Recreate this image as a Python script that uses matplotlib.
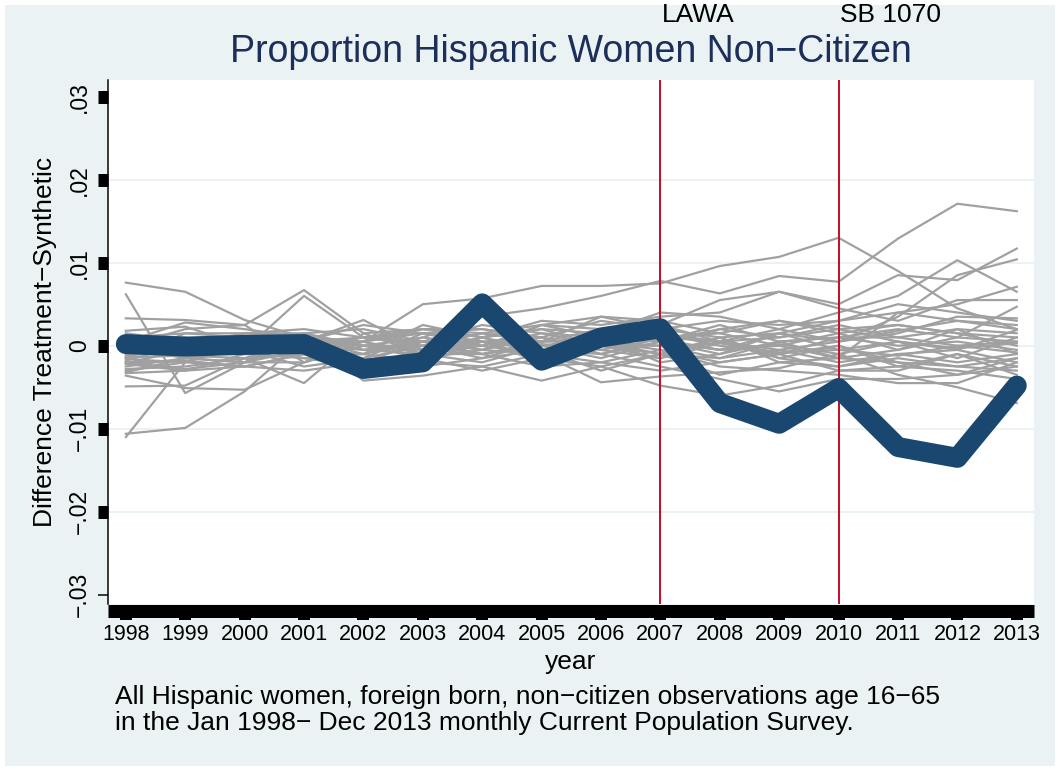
import matplotlib
matplotlib.use("Agg")
import matplotlib.pyplot as plt
import matplotlib.transforms as mtransforms
from matplotlib.patches import Rectangle

plt.rcParams['font.family'] = ['Liberation Sans', 'DejaVu Sans']

# ---------------- data ----------------
years = list(range(1998, 2014))
year_labels = [str(y) for y in years]
ytick_values = [0.03, 0.02, 0.01, 0.0, -0.01, -0.02, -0.03]
ytick_labels = [".03", ".02", ".01", "0", "\u2212.01", "\u2212.02", "\u2212.03"]
grid_values = [0.02, 0.01, 0.0, -0.01, -0.02]
events = [2007, 2010]
event_labels = ["LAWA", "SB 1070"]

# treated unit (Arizona) gap: treatment - synthetic
treated = [0.0002, -0.0001, 0.0001, 0.0002, -0.0028, -0.0020, 0.0051, -0.0018,
           0.0010, 0.0021, -0.0069, -0.0094, -0.0051, -0.0122, -0.0135, -0.0048]

# placebo gaps (in thousandths)
placebo_01 = [7.6, 6.5, 3.1, 1.0, 0.5, 2.0, 1.5, 2.5, 1.0, 0.5, -1.0, 0.5, 1.0, 2.0, 1.0, 0.5]
placebo_02 = [6.2, -5.7, -2.0, 1.5, -0.5, 0.5, -1.0, 0.2, -0.5, -1.5, 0.3, -0.8, -0.5, -1.2, 0.0, -0.8]
placebo_03 = [-11.0, -2.0, 0.5, -0.3, 1.0, 0.0, -1.5, 0.5, 1.0, 2.5, 0.5, 2.0, 0.5, 1.8, 3.0, 2.0]
placebo_04 = [-10.6, -9.9, -5.5, 0.8, -1.0, -2.0, 0.5, -0.5, 0.0, -1.0, 1.0, -1.5, -2.5, -1.0, -2.0, -1.0]
placebo_05 = [3.3, 3.1, 2.5, 6.7, 1.5, -1.0, 0.5, 1.0, -0.5, 0.8, -0.5, 0.2, -1.0, 0.5, -0.3, 0.3]
placebo_06 = [-3.2, -1.5, -0.5, 6.0, 1.0, 1.5, 0.0, 2.5, 3.5, 3.0, 1.5, 3.0, 2.0, 2.5, 1.5, 1.0]
placebo_07 = [-3.6, -5.1, -5.3, -2.0, 0.5, -1.5, -0.5, -1.0, 0.5, -0.5, -2.0, -1.0, 0.0, -2.5, -1.0, -2.5]
placebo_08 = [-4.9, -4.8, -1.5, -4.5, 1.5, 2.0, 1.0, -0.5, 0.5, 1.5, 0.0, -1.0, 1.0, 0.0, 0.5, -0.5]
placebo_09 = [-1.5, 1.5, 1.0, 0.0, -2.0, 0.5, 2.5, 1.5, 1.0, 0.5, 2.0, 1.0, 2.5, 1.0, 2.0, 1.5]
placebo_10 = [-2.0, -1.8, -2.5, -1.0, 0.5, 5.0, 5.7, 7.2, 7.2, 7.5, 9.6, 10.7, 13.0, 9.0, 4.5, 2.0]
placebo_11 = [-1.8, 0.2, 1.5, 1.0, 0.0, 1.0, 3.5, 4.5, 6.0, 7.8, 6.3, 8.4, 7.7, 12.9, 17.1, 16.2]
placebo_12 = [-2.1, -0.5, 1.0, 0.5, 3.1, -0.5, 0.5, -2.0, 1.5, 2.5, 5.5, 6.5, 5.0, 8.5, 7.9, 11.7]
placebo_13 = [0.5, 0.0, -1.0, 1.5, -4.2, -3.6, -2.5, -4.2, -2.5, -4.8, -6.0, -4.8, -3.0, -2.5, -3.0, -4.0]
placebo_14 = [-1.6, -2.0, 0.0, -1.5, -1.0, 1.0, 0.0, -1.0, -4.4, -3.7, -3.2, -2.7, -1.0, -3.5, -5.0, -6.9]
placebo_15 = [0.0, 2.0, 2.5, -2.0, 0.0, -1.5, 1.0, 2.0, 1.5, 4.0, 3.5, 2.0, 4.0, 6.0, 10.3, 6.5]
placebo_16 = [0.5, 2.8, 2.0, 1.0, -0.5, 0.0, -1.0, 0.0, -1.5, 0.5, 2.5, 0.5, -1.5, 4.0, 5.0, 7.1]
placebo_17 = [-1.0, -1.0, -0.5, -2.5, -1.5, 0.0, 1.5, 0.5, 2.0, 0.5, -0.5, 1.5, 0.5, 3.5, 8.5, 10.4]
placebo_18 = [-2.5, -1.5, -2.0, -0.5, 0.5, -1.0, 0.0, 1.5, 0.0, -1.5, 1.0, -2.0, -1.5, -0.5, 1.0, 4.7]
placebo_19 = [1.5, 0.5, 0.0, -0.5, -1.5, -2.0, -2.5, -1.0, 0.5, 0.0, -1.5, -0.5, 0.5, 1.5, 3.5, 3.3]
placebo_20 = [-0.8, 0.5, -1.0, 0.5, 1.0, 0.5, -0.5, 2.5, 2.0, 1.0, 0.5, -0.5, -2.0, -1.0, -0.5, 1.9]
placebo_21 = [0.2, -1.0, 0.5, 0.0, -0.5, -1.0, -2.0, 0.0, 1.0, -2.0, -1.0, 1.5, -0.5, 0.5, -1.5, 1.0]
placebo_22 = [-2.8, -2.5, -1.5, 0.5, 2.5, 1.5, 0.5, -0.5, -1.0, 1.0, 1.5, 0.0, 1.5, 2.5, 1.5, 0.0]
placebo_23 = [-1.2, -0.5, 1.5, 1.5, 0.0, -0.5, 1.0, 3.0, 2.5, 3.5, 4.0, 6.5, 4.5, 3.0, 5.5, 5.5]
placebo_24 = [-2.2, -3.0, -1.0, -1.5, -2.5, -1.0, -1.0, -2.5, -2.0, -0.5, -2.5, -3.0, -3.5, -4.5, -4.5, -2.0]
placebo_25 = [1.0, 1.5, 1.5, 2.0, 1.0, 2.0, 2.0, 1.0, 3.0, 2.0, 3.0, 2.5, 3.0, 4.0, 3.0, 2.5]
placebo_26 = [-3.0, -2.0, -2.5, -3.0, -2.0, -1.5, -3.0, -1.5, -2.5, -1.0, -3.5, -2.0, -2.5, -1.5, -2.5, -3.0]
placebo_27 = [-0.5, -0.8, 0.8, -1.0, -1.0, 0.5, -0.5, 1.0, -1.0, -2.5, -4.0, -5.5, -4.0, -4.0, -3.5, -1.5]
placebo_28 = [0.8, 1.0, -0.5, 0.5, 0.5, 1.5, 0.5, -1.5, 0.0, 1.5, 0.5, 1.0, 2.0, 0.5, -0.5, -2.0]
placebo_29 = [-1.4, -1.2, -1.5, -1.0, -3.0, -2.5, -1.5, -0.5, -3.0, -1.0, 0.5, -1.5, 0.0, -2.0, -2.5, -1.5]
placebo_30 = [-2.0, -2.8, -2.0, -2.0, 0.0, 0.0, 1.5, 0.5, 0.5, -1.0, -1.5, 0.5, 1.0, 1.0, 0.0, 0.5]
placebo_31 = [0.3, 0.5, 1.0, -0.5, -1.0, 2.5, 1.0, 2.0, 0.0, 0.0, 2.0, 3.0, 1.5, -0.5, 2.0, -1.0]
placebo_32 = [-0.2, -1.5, -2.0, 0.5, 0.0, -0.5, 1.0, -1.0, -2.0, -3.0, -2.0, -1.0, -3.0, -3.0, -1.0, -3.5]
placebo_33 = [-3.3, -3.0, -2.5, -1.0, -1.5, 1.5, 2.0, 1.0, -1.0, 0.5, -0.5, 0.0, -1.5, -2.0, -3.5, -2.5]
placebo_34 = [1.8, 2.3, 0.0, 1.5, 2.0, 0.5, -1.0, 0.5, 3.5, 2.0, 1.0, 1.5, 3.0, 5.0, 4.0, 3.0]

placebos = [placebo_01, placebo_02, placebo_03, placebo_04, placebo_05, placebo_06,
            placebo_07, placebo_08, placebo_09, placebo_10, placebo_11, placebo_12,
            placebo_13, placebo_14, placebo_15, placebo_16, placebo_17, placebo_18,
            placebo_19, placebo_20, placebo_21, placebo_22, placebo_23, placebo_24,
            placebo_25, placebo_26, placebo_27, placebo_28, placebo_29, placebo_30,
            placebo_31, placebo_32, placebo_33, placebo_34]

title = "Proportion Hispanic Women Non\u2212Citizen"
ylabel = "Difference Treatment\u2212Synthetic"
xlabel = "year"
note = ("All Hispanic women, foreign born, non\u2212citizen observations age 16\u221265\n"
        "in the Jan 1998\u2212 Dec 2013 monthly Current Population Survey.")

# ---------------- styling ----------------
W, H = 1060, 771
BG = "#eaf2f3"
NAVY = "#1a476f"
GRAY = "#a0a0a0"
RED = "#c8102e"
TITLE_C = "#1c2e5a"
px = 72.0 / 100.0  # points per pixel at dpi 100

fig = plt.figure(figsize=(W / 100, H / 100), dpi=100)
fig.patch.set_facecolor("white")
bg = Rectangle((5 / W, 5 / H), (W - 10) / W, (H - 10) / H,
               transform=fig.transFigure, facecolor=BG, edgecolor="none",
               zorder=-10)
fig.patches.append(bg)

left, right, top, bottom = 108, 1034, 80, 604
ax = fig.add_axes([left / W, 1 - bottom / H, (right - left) / W, (bottom - top) / H])
ax.set_facecolor("white")

ax.set_xlim(1997.70, 2013.29)
ax.set_ylim(-0.0311, 0.0320)

for g in grid_values:
    ax.axhline(g, color=BG, lw=2 * px, zorder=1)

for p in placebos:
    ax.plot(years, [v / 1000.0 for v in p], color=GRAY, lw=2.2 * px, zorder=2)

for e in events:
    ax.axvline(e, color=RED, lw=2 * px, zorder=3)

ax.plot(years, treated, color=NAVY, lw=20 * px, solid_capstyle="round",
        solid_joinstyle="round", zorder=4)

# spines
for s in ["top", "right"]:
    ax.spines[s].set_visible(False)
ax.spines["left"].set_linewidth(1.5 * px)
ax.spines["bottom"].set_position(("outward", 6.5 * px))
ax.spines["bottom"].set_linewidth(13 * px)
ax.spines["bottom"].set_capstyle("butt")

ax.set_xticks(years)
ax.set_xticklabels(year_labels, fontsize=15.5)
ax.tick_params(axis="x", direction="out", length=9 * px, width=12 * px, pad=3,
               color="black")

ax.set_yticks(ytick_values)
ax.set_yticklabels(ytick_labels, fontsize=16.5, rotation=90, va="center")
ax.tick_params(axis="y", direction="out", length=10 * px, width=13 * px, pad=5,
               color="black")
# last tick (-.03) drawn thin
ax.yaxis.get_major_ticks()[-1].tick1line.set_markeredgewidth(1.5 * px)

# texts
fig.text(571 / W, 1 - 52 / H, title, ha="center", va="center", fontsize=27,
         color=TITLE_C)
fig.text(45 / W, 1 - 342 / H, ylabel, ha="center", va="center", rotation=90,
         fontsize=19)
fig.text(571 / W, 1 - 662 / H, xlabel, ha="center", va="center", fontsize=19)
fig.text(115 / W, 1 - 685 / H, note, ha="left", va="top", fontsize=19,
         linespacing=1.12)

trans = mtransforms.blended_transform_factory(ax.transData, fig.transFigure)
for e, lab in zip(events, event_labels):
    ax.text(e + 0.03, 1 - 22 / H, lab, transform=trans, ha="left", va="baseline",
            fontsize=19, clip_on=False)

fig.savefig("out.png", dpi=100, facecolor=fig.get_facecolor())
